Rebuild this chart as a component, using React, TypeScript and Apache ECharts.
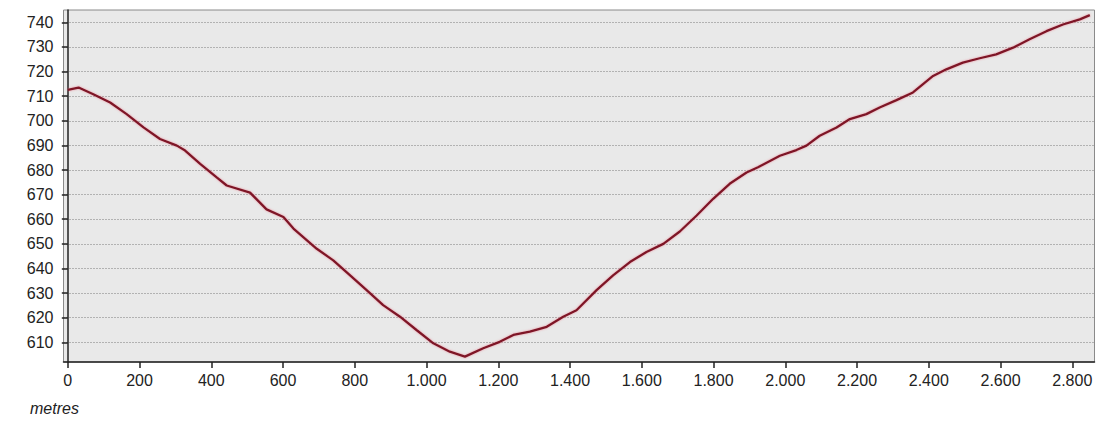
import React, { useEffect, useRef } from "react";
import * as echarts from "echarts";

const distances = [0, 30, 71, 118, 164, 211, 257, 304, 327, 369, 415, 443, 508, 554, 601, 629, 694, 740, 787, 833, 879, 926, 972, 1019, 1065, 1107, 1158, 1204, 1242, 1288, 1335, 1381, 1418, 1474, 1520, 1567, 1613, 1660, 1706, 1753, 1799, 1845, 1892, 1924, 1985, 2031, 2059, 2096, 2143, 2180, 2226, 2263, 2310, 2356, 2384, 2412, 2449, 2495, 2542, 2588, 2635, 2681, 2728, 2774, 2821, 2849];
const elevations = [712.6, 713.5, 710.8, 707.4, 702.7, 697.3, 692.6, 689.9, 687.9, 682.5, 677, 673.7, 670.8, 664, 660.9, 656.2, 648, 643.3, 637.2, 631.2, 625.1, 620.4, 615, 609.6, 606.2, 604.2, 607.6, 610.2, 613, 614.3, 616.3, 620.4, 623, 631.2, 637.2, 642.6, 646.7, 650, 655, 661.5, 668.3, 674.4, 679, 681.1, 685.8, 688.1, 689.9, 693.9, 697.3, 700.7, 702.7, 705.4, 708.4, 711.5, 714.9, 718.2, 720.9, 723.6, 725.4, 727, 729.7, 733.1, 736.4, 739.1, 741.2, 742.9];
const xTicks = [0, 200, 400, 600, 800, 1000, 1200, 1400, 1600, 1800, 2000, 2200, 2400, 2600, 2800];
const yTicks = [610, 620, 630, 640, 650, 660, 670, 680, 690, 700, 710, 720, 730, 740];
const xUnitLabel = "metres";

const fmtThousands = (v: number) => {
  const s = String(Math.round(v));
  return s.replace(/\B(?=(\d{3})+(?!\d))/g, ".");
};

export default function App() {
  const ref = useRef<HTMLDivElement>(null);
  useEffect(() => {
    if (!ref.current) return;
    const chart = echarts.init(ref.current, undefined, { renderer: "svg" });
    const font = "Liberation Sans, Arial, sans-serif";
    chart.setOption({
      animation: false,
      backgroundColor: "#ffffff",
      grid: {
        left: 63.5,
        right: 4.5,
        top: 10,
        bottom: 59,
        show: true,
        backgroundColor: "#e9e9e9",
        borderColor: "#8a8a8a",
        borderWidth: 1,
      },
      xAxis: {
        type: "value",
        min: -12,
        max: 2862,
        axisLine: { show: true, onZero: false, lineStyle: { color: "#222", width: 1.5 } },
        axisTick: { show: true, length: 6, customValues: xTicks, lineStyle: { color: "#222", width: 1.5 } },
        axisLabel: {
          customValues: xTicks,
          formatter: (v: number) => fmtThousands(v),
          color: "#222",
          fontFamily: font,
          fontSize: 16,
          margin: 10,
        },
        splitLine: { show: false },
      },
      yAxis: {
        type: "value",
        min: 602,
        max: 745,
        axisLine: { show: true, lineStyle: { color: "#222", width: 1.5 } },
        axisTick: { show: true, length: 6, customValues: yTicks, lineStyle: { color: "#222", width: 1.5 } },
        axisLabel: {
          customValues: yTicks,
          color: "#222",
          fontFamily: font,
          fontSize: 16,
          margin: 10,
        },
        splitLine: { show: true, lineStyle: { color: "#7a7a7a", type: [1, 2], width: 1 } },
      },
      graphic: [
        {
          type: "text",
          left: 30,
          top: 400,
          style: { text: xUnitLabel, fontFamily: font, fontSize: 16, fontStyle: "italic", fill: "#222" },
        },
      ],
      series: [
        {
          type: "line",
          data: distances.map((d, i) => [d, elevations[i]]),
          showSymbol: false,
          lineStyle: { color: "#7e1428", width: 2.3, shadowColor: "rgba(230,90,110,0.6)", shadowBlur: 2 },
        },
      ],
    });
    return () => chart.dispose();
  }, []);
  return <div ref={ref} style={{ width: 1099, height: 421, position: "absolute", left: 0, top: 0 }} />;
}
